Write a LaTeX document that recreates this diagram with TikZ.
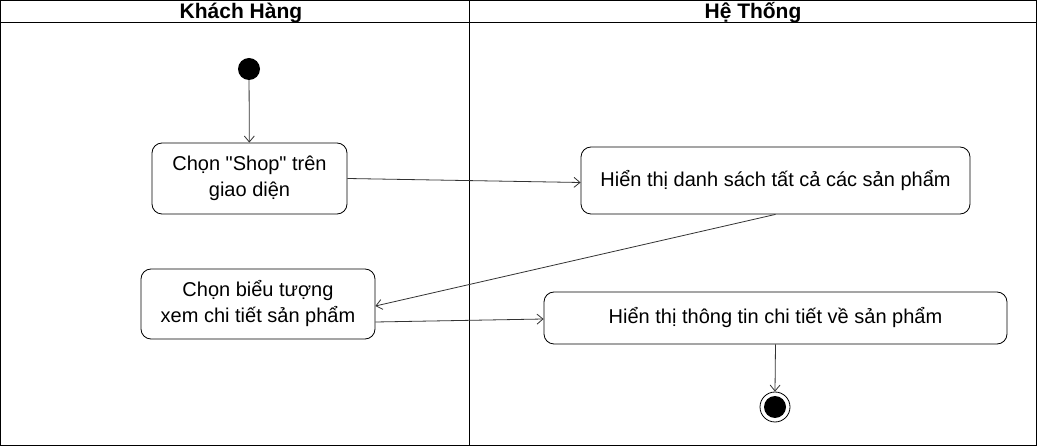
\documentclass[tikz,border=0pt]{standalone}
\usepackage{fontspec}
\setmainfont{Liberation Sans}[Ligatures=TeXOff]
\usetikzlibrary{arrows.meta}
\begin{document}
\begin{tikzpicture}[x=1pt,y=-1pt,
  lane/.style={draw=black,line width=1pt},
  act/.style={draw=black,line width=0.8pt,rounded corners=10pt,align=center,font=\fontsize{20}{26}\selectfont,inner sep=0pt},
  flow/.style={draw=black!80,line width=0.8pt,-{Straight Barb[length=6pt,width=10pt,line width=0.8pt]}},
  hdr/.style={font=\bfseries\fontsize{21}{24}\selectfont}]
\useasboundingbox (0,0) rectangle (1037,446);
\fill[white] (0,0) rectangle (1037,446);
% lanes
\draw[lane] (0.5,0.5) rectangle (1036.5,445.5);
\draw[lane] (0.5,23) -- (1036.5,23);
\draw[lane] (469,0.5) -- (469,445.5);
\node[hdr] (h1) at (241,13) {Khách Hàng};
\node[hdr] (h2) at (753,13) {Hệ Thống};
% start
\node[circle,fill=black,minimum size=22pt,inner sep=0pt] (start) at (249,69) {};
% activities
\node[act,minimum width=195pt,minimum height=71pt] (a1) at (249.5,178.5) {Chọn "Shop" trên\\giao diện};
\node[act,minimum width=389pt,minimum height=67pt] (a2) at (775.5,180.5) {Hiển thị danh sách tất cả các sản phẩm};
\node[act,minimum width=234pt,minimum height=70pt] (a3) at (258,304) {Chọn biểu tượng\\xem chi tiết sản phẩm};
\node[act,minimum width=463pt,minimum height=52pt] (a4) at (775.5,318) {Hiển thị thông tin chi tiết về sản phẩm};
% end
\node[circle,draw=black,line width=0.8pt,minimum size=30pt,inner sep=0pt] (end) at (775,407) {};
\node[circle,fill=black,minimum size=22pt,inner sep=0pt] (endin) at (end) {};
% flows
\draw[flow] (start) -- (a1);
\draw[flow] (a1.east) -- ([yshift=-2pt]a2.west);
\draw[flow] (a2.south) -- ([yshift=-2pt]a3.east);
\draw[flow] ([yshift=-18pt]a3.east) -- ([yshift=-1pt]a4.west);
\draw[flow] (a4.south) -- (end.north);
\end{tikzpicture}
\end{document}
